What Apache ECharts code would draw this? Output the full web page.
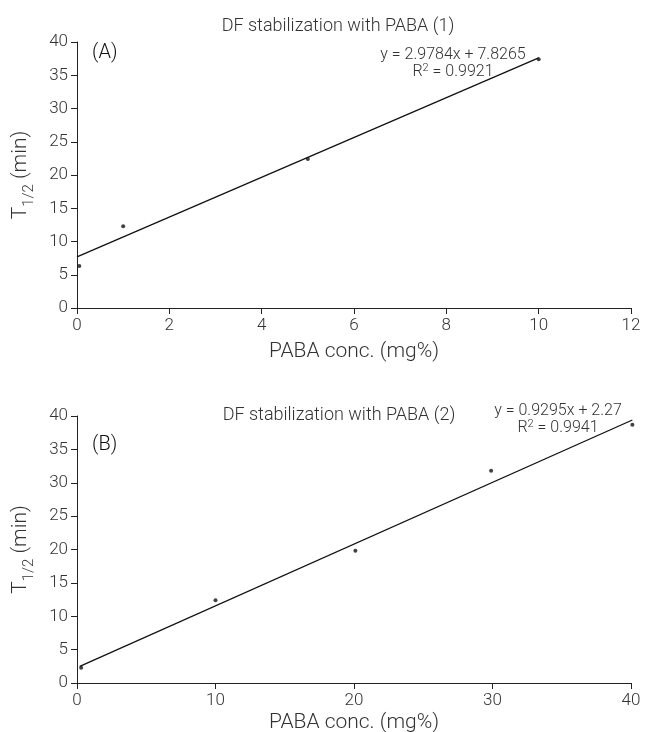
<!DOCTYPE html>
<html>
<head>
<meta charset="utf-8">
<script src="https://cdn.jsdelivr.net/npm/echarts@6/dist/echarts.min.js"></script>
<style>
  html, body { margin: 0; padding: 0; background: #fff; }
  #chart { width: 645px; height: 732px; }
</style>
</head>
<body>
<div id="chart"></div>
<script>
// panel A: PABA 0-10 mg%
const concA = [0.05, 1, 5, 10];
const halfLifeA = [6.3, 12.3, 22.4, 37.4];
const fitA = [[0, 7.7], [10, 37.6]];
const xTicksA = [0, 12, 2];

// panel B: PABA 0-40 mg%
const concB = [0.3, 10, 20.1, 29.9, 40.1];
const halfLifeB = [2.3, 12.4, 19.8, 31.8, 38.7];
const fitB = [[0.2, 2.5], [40.1, 39.4]];
const xTicksB = [0, 40, 10];

const titles = ['DF stabilization with PABA (1)', 'DF stabilization with PABA (2)'];
const equations = [
  ['y = 2.9784x + 7.8265', '{n|R}{s|2}{n| = 0.9921}'],
  ['y = 0.9295x + 2.27', '{n|R}{s|2}{n| = 0.9941}']
];

const font = 'Roboto, "Liberation Sans", sans-serif';
const txt = '#333';
const axisCol = '#222';

const chart = echarts.init(document.getElementById('chart'));

function xAxis(idx, ticks, gap) {
  return {
    type: 'value', gridIndex: idx,
    min: ticks[0], max: ticks[1], interval: ticks[2],
    name: 'PABA conc. (mg%)', nameLocation: 'middle', nameGap: gap,
    nameTextStyle: { fontFamily: font, fontSize: 21, color: txt, fontWeight: 300 },
    axisLine: { lineStyle: { color: axisCol, width: 1 } },
    axisTick: { length: 6, lineStyle: { color: axisCol } },
    axisLabel: { fontFamily: font, fontSize: 17, color: txt, margin: 9, fontWeight: 300 },
    splitLine: { show: false }
  };
}

function yAxis(idx) {
  return {
    type: 'value', gridIndex: idx,
    min: 0, max: 40, interval: 5,
    name: '{a|T}{b|1/2}{a| (min)}', nameLocation: 'middle', nameGap: 46,
    nameTextStyle: {
      fontFamily: font, color: txt,
      rich: {
        a: { fontFamily: font, fontSize: 21, fontWeight: 300, color: txt, lineHeight: 24, verticalAlign: 'bottom' },
        b: { fontFamily: font, fontSize: 15, fontWeight: 300, color: txt, lineHeight: 24, verticalAlign: 'bottom', padding: [0, 0, -6, 0] }
      }
    },
    axisLine: { show: true, lineStyle: { color: axisCol, width: 1 } },
    axisTick: { show: true, length: 6, lineStyle: { color: axisCol } },
    axisLabel: { fontFamily: font, fontSize: 17, color: txt, margin: 9, fontWeight: 300 },
    splitLine: { show: false }
  };
}

const eqStyle = {
  fontFamily: font, fontSize: 16, fontWeight: 300, color: txt, align: 'center', lineHeight: 17,
  rich: {
    n: { fontFamily: font, fontSize: 16, fontWeight: 300, color: txt, lineHeight: 17 },
    s: { fontFamily: font, fontSize: 11, fontWeight: 300, color: txt, verticalAlign: 'top', lineHeight: 17, padding: [0, 0, 6, 0] }
  }
};

const titleStyle = { fontFamily: font, fontSize: 18, fontWeight: 300, color: txt };

chart.setOption({
  animation: false,
  backgroundColor: '#fff',
  title: [
    { text: titles[0], left: 333, top: 12, textAlign: 'center', textStyle: titleStyle },
    { text: titles[1], left: 334, top: 401, textAlign: 'center', textStyle: titleStyle },
    { text: '(A)', left: 87, top: 38, textStyle: { fontFamily: font, fontSize: 20, fontWeight: 300, color: '#111' } },
    { text: '(B)', left: 87, top: 430, textStyle: { fontFamily: font, fontSize: 20, fontWeight: 300, color: '#111' } },
    { text: equations[0][0] + '\n' + equations[0][1], left: 448, top: 41, textAlign: 'center', textStyle: eqStyle },
    { text: equations[1][0] + '\n' + equations[1][1], left: 553, top: 397, textAlign: 'center', textStyle: eqStyle }
  ],
  grid: [
    { left: 77, right: 14, top: 42, height: 266, outerBoundsMode: 'none' },
    { left: 77, right: 14, top: 416, height: 267, outerBoundsMode: 'none' }
  ],
  xAxis: [xAxis(0, xTicksA, 33), xAxis(1, xTicksB, 29)],
  yAxis: [yAxis(0), yAxis(1)],
  series: [
    {
      type: 'line', xAxisIndex: 0, yAxisIndex: 0, data: fitA, clip: false,
      symbol: 'none', lineStyle: { color: '#111', width: 1.3 }, z: 2
    },
    {
      type: 'scatter', xAxisIndex: 0, yAxisIndex: 0, clip: false,
      data: concA.map((x, i) => [x, halfLifeA[i]]),
      symbolSize: 4, itemStyle: { color: '#111' }, z: 3
    },
    {
      type: 'line', xAxisIndex: 1, yAxisIndex: 1, data: fitB, clip: false,
      symbol: 'none', lineStyle: { color: '#111', width: 1.3 }, z: 2
    },
    {
      type: 'scatter', xAxisIndex: 1, yAxisIndex: 1, clip: false,
      data: concB.map((x, i) => [x, halfLifeB[i]]),
      symbolSize: 4, itemStyle: { color: '#111' }, z: 3
    }
  ]
});
</script>
</body>
</html>
